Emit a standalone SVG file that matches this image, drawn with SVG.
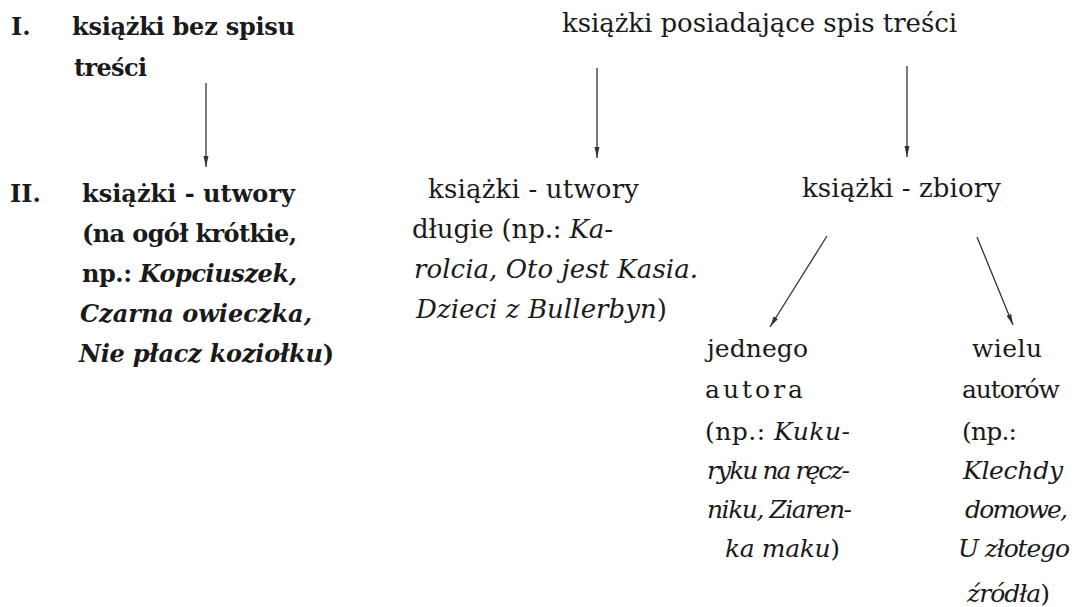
<svg xmlns="http://www.w3.org/2000/svg" width="1078" height="607" viewBox="0 0 1078 607">
<style>
  text { font-family: "DejaVu Serif", "Liberation Serif", serif; font-size: 26px; fill: #1a1a1a; }
  .b text, text.b { font-weight: bold; font-size: 24px; }
  .s text { font-size: 25px; }
  .i { font-style: italic; }
  .c { stroke: #333; stroke-width: 1.3; fill: none; }
</style>
<defs>
  <marker id="ah" markerUnits="userSpaceOnUse" markerWidth="12" markerHeight="6" refX="11" refY="3" orient="auto">
    <path d="M0,0.5 L11,3 L0,5.5 z" fill="#333"/>
  </marker>
</defs>
<rect width="1078" height="607" fill="#fff"/>

<g id="connectors">
  <line class="c" x1="206" y1="83" x2="206" y2="167" marker-end="url(#ah)"/>
  <line class="c" x1="597" y1="68" x2="597" y2="158" marker-end="url(#ah)"/>
  <line class="c" x1="907" y1="66" x2="907" y2="157" marker-end="url(#ah)"/>
  <line class="c" x1="827" y1="236" x2="770" y2="327" marker-end="url(#ah)"/>
  <line class="c" x1="977" y1="237" x2="1013" y2="325" marker-end="url(#ah)"/>
</g>

<g id="level-labels" class="b">
  <text x="11" y="35">I.</text>
  <text x="10" y="202">II.</text>
</g>

<g id="node-bez-spisu" class="b">
  <text x="72" y="35" textLength="223">książki bez spisu</text>
  <text x="74" y="76" textLength="73">treści</text>
</g>

<g id="node-posiadajace">
  <text x="562" y="32" textLength="395">książki posiadające spis treści</text>
</g>

<g id="node-utwory-krotkie" class="b">
  <text x="82" y="202" textLength="213">książki - utwory</text>
  <text x="82" y="242" textLength="215">(na ogół krótkie,</text>
  <text x="82" y="282" textLength="215">np.: <tspan class="i">Kopciuszek,</tspan></text>
  <text x="80" y="322" textLength="232" class="i">Czarna owieczka,</text>
  <text x="79" y="362" textLength="255"><tspan class="i">Nie płacz koziołku</tspan>)</text>
</g>

<g id="node-utwory-dlugie">
  <text x="428" y="198" textLength="211">książki - utwory</text>
  <text x="412" y="238" textLength="201">długie (np.: <tspan class="i">Ka-</tspan></text>
  <text x="414" y="278" textLength="284" class="i">rolcia, Oto jest Kasia.</text>
  <text x="416" y="318" textLength="251"><tspan class="i">Dzieci z Bullerbyn</tspan>)</text>
</g>

<g id="node-zbiory">
  <text x="802" y="197" textLength="199">książki - zbiory</text>
</g>

<g id="node-jednego-autora" class="s">
  <text x="707" y="357" textLength="101">jednego</text>
  <text x="705" y="398" textLength="98">autora</text>
  <text x="705" y="440" textLength="145">(np.: <tspan class="i">Kuku-</tspan></text>
  <text x="707" y="479" textLength="143" class="i">ryku na ręcz-</text>
  <text x="707" y="518" textLength="145" class="i">niku, Ziaren-</text>
  <text x="725" y="557" textLength="115"><tspan class="i">ka maku</tspan>)</text>
</g>

<g id="node-wielu-autorow" class="s">
  <text x="972" y="357" textLength="70">wielu</text>
  <text x="962" y="398" textLength="98">autorów</text>
  <text x="962" y="440" textLength="55">(np.:</text>
  <text x="963" y="479" textLength="100" class="i">Klechdy</text>
  <text x="965" y="518" textLength="103" class="i">domowe,</text>
  <text x="958" y="557" textLength="112" class="i">U złotego</text>
  <text x="967" y="602" textLength="83"><tspan class="i">źródła</tspan>)</text>
</g>
</svg>
